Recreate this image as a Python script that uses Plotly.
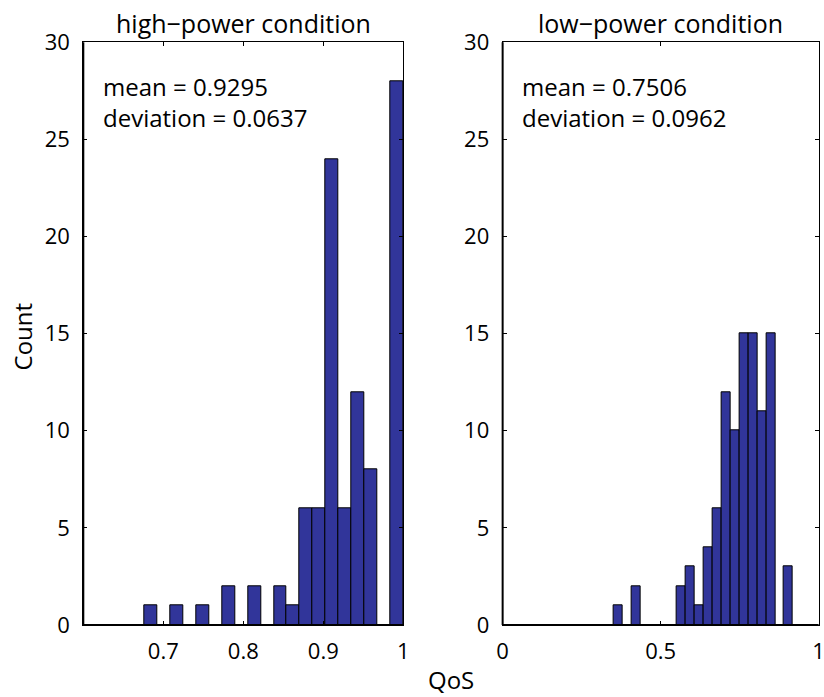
import numpy as np
import plotly.graph_objects as go

# Histogram counts (20 equal-width bins spanning [min, max] of each sample)
hp_counts = [1, 0, 1, 0, 1, 0, 2, 0, 2, 0, 2, 1, 6, 6, 24, 6, 12, 8, 0, 28]
hp_range = [0.6763, 1.0]
hp_mean, hp_dev = 0.9295, 0.0637

lp_counts = [1, 0, 2, 0, 0, 0, 0, 2, 3, 1, 4, 6, 12, 10, 15, 15, 11, 15, 0, 3]
lp_range = [0.3525, 0.919]
lp_mean, lp_dev = 0.7506, 0.0962

titles = ["high\u2212power condition", "low\u2212power condition"]
hp_xticks = [0.7, 0.8, 0.9, 1.0]
lp_xticks = [0, 0.5, 1]
y_ticks = [0, 5, 10, 15, 20, 25, 30]

FONT = "Open Sans"
BAR_COLOR = "#31359A"
TICK_FS = 22
TEXT_FS = 24
TITLE_FS = 25


def bin_geometry(counts, rng):
    edges = np.linspace(rng[0], rng[1], len(counts) + 1)
    centers = (edges[:-1] + edges[1:]) / 2
    return centers, edges[1] - edges[0]


fig = go.Figure()

for i, (counts, rng) in enumerate([(hp_counts, hp_range), (lp_counts, lp_range)]):
    centers, w = bin_geometry(counts, rng)
    fig.add_trace(go.Bar(
        x=centers, y=counts, width=w,
        marker=dict(color=BAR_COLOR, line=dict(color="black", width=1)),
        xaxis="x" if i == 0 else "x2", yaxis="y" if i == 0 else "y2",
        showlegend=False, hoverinfo="x+y",
    ))

y_dom = [0.1033, 0.9393]
axis_common = dict(
    showline=True, linecolor="black", linewidth=1, mirror="ticks",
    ticks="inside", ticklen=4, tickcolor="black", tickwidth=1,
    showgrid=False, zeroline=False, automargin=False,
    ticklabeloverflow="allow",
    tickfont=dict(family=FONT, size=TICK_FS, color="black"),
)
x_common = dict(ticklabelstandoff=7, **axis_common)
y_common = dict(ticklabelstandoff=8, **axis_common)

fig.update_layout(
    width=824, height=697,
    margin=dict(l=0, r=0, t=0, b=0, pad=0, autoexpand=False),
    paper_bgcolor="white", plot_bgcolor="white",
    bargap=0,
    font=dict(family=FONT, size=TEXT_FS, color="black"),
    xaxis=dict(domain=[0.1011, 0.4894], range=[0.6, 1.0],
               tickvals=hp_xticks, ticktext=["0.7", "0.8", "0.9", "1"],
               anchor="y", **x_common),
    yaxis=dict(domain=y_dom, range=[0, 30], tickvals=y_ticks,
               anchor="x", **y_common),
    xaxis2=dict(domain=[0.6100, 0.9935], range=[0, 1.0],
                tickvals=lp_xticks, ticktext=["0", "0.5", "1"],
                anchor="y2", **x_common),
    yaxis2=dict(domain=y_dom, range=[0, 30], tickvals=y_ticks,
                anchor="x2", **y_common),
)

# Heavier left and bottom axis lines
for xr, yr in [("x domain", "y domain"), ("x2 domain", "y2 domain")]:
    fig.add_shape(type="line", xref=xr, yref=yr, x0=0, x1=0, y0=0, y1=1,
                  line=dict(color="black", width=2))
    fig.add_shape(type="line", xref=xr, yref=yr, x0=0, x1=1, y0=0, y1=0,
                  line=dict(color="black", width=2))

# Panel titles and statistics
for i, (title, m, d) in enumerate([(titles[0], hp_mean, hp_dev),
                                   (titles[1], lp_mean, lp_dev)]):
    xr = "x domain" if i == 0 else "x2 domain"
    fig.add_annotation(text=title, xref=xr, yref="paper", x=0.5, y=0.9663,
                       xanchor="center", yanchor="middle",
                       showarrow=False, font=dict(family=FONT, size=TITLE_FS))
    fig.add_annotation(text=f"mean = {m:.4f}<br>deviation = {d:.4f}",
                       xref=xr, yref="paper", x=0.055, y=0.8537, align="left",
                       xanchor="left", yanchor="middle", showarrow=False,
                       font=dict(family=FONT, size=TEXT_FS))

fig.add_annotation(text="Count", xref="paper", yref="paper", x=0.0273, y=0.518,
                   xanchor="center", yanchor="middle",
                   textangle=-90, showarrow=False,
                   font=dict(family=FONT, size=TEXT_FS))
fig.add_annotation(text="QoS", xref="paper", yref="paper", x=0.547, y=0.025,
                   xanchor="center", yanchor="middle",
                   showarrow=False, font=dict(family=FONT, size=TEXT_FS))

fig.write_html("out.html")
